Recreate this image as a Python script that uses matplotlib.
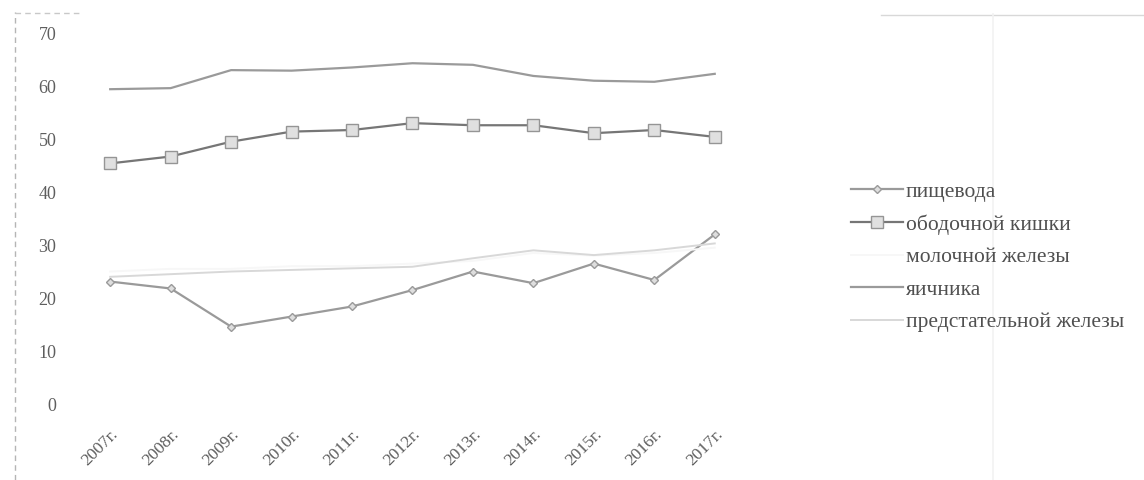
import numpy as np
import matplotlib.pyplot as plt
from matplotlib.lines import Line2D

# Years on the category axis
years = ['2007г.', '2008г.', '2009г.', '2010г.', '2011г.', '2012г.',
         '2013г.', '2014г.', '2015г.', '2016г.', '2017г.']

# Values per localisation
esophagus = [23.1, 21.8, 14.6, 16.5, 18.4, 21.5, 25.0, 22.8, 26.5, 23.4, 32.0]
colon = [45.4, 46.7, 49.5, 51.4, 51.7, 53.0, 52.6, 52.6, 51.1, 51.7, 50.4]
breast = [25.0, 25.5, 25.5, 26.0, 26.0, 26.5, 27.0, 28.5, 28.0, 28.5, 29.5]
ovary = [59.4, 59.6, 63.0, 62.9, 63.5, 64.3, 64.0, 61.9, 61.0, 60.8, 62.3]
prostate = [24.0, 24.5, 25.0, 25.3, 25.6, 25.9, 27.5, 29.0, 28.1, 29.0, 30.3]

labels = ['пищевода', 'ободочной кишки', 'молочной железы', 'яичника',
          'предстательной железы']

plt.rcParams['font.family'] = ['Liberation Serif', 'DejaVu Serif']

fig = plt.figure(figsize=(11.44, 4.8), dpi=100)
ax = fig.add_axes([0.0699, 0.1583, 0.5813, 0.7729])

x = np.arange(len(years))

ax.plot(x, esophagus, color='#9a9a9a', lw=1.6, marker='D', ms=4.5,
        mfc='#dedede', mec='#9a9a9a', label=labels[0])
ax.plot(x, colon, color='#767676', lw=1.6, marker='s', ms=8,
        mfc='#e0e0e0', mec='#959595', label=labels[1])
ax.plot(x, breast, color='#f7f7f7', lw=1.4, label=labels[2])
ax.plot(x, ovary, color='#9a9a9a', lw=1.6, label=labels[3])
ax.plot(x, prostate, color='#d8d8d8', lw=1.4, label=labels[4])

ax.set_xlim(-0.5, len(years) - 0.5)
ax.set_ylim(0, 70)
ax.set_yticks(np.arange(0, 71, 10))
ax.set_xticks(x)
ax.set_xticklabels(years, rotation=45, ha='right', rotation_mode='anchor')
ax.tick_params(axis='both', length=0, colors='#5e5e5e')
ax.tick_params(axis='y', pad=17, labelsize=13)
ax.tick_params(axis='x', pad=16, labelsize=12.5)
for s in ax.spines.values():
    s.set_visible(False)

leg = fig.legend(loc='upper left', bbox_to_anchor=(0.727, 0.662),
                 frameon=False, fontsize=15.5, handlelength=2.4,
                 handletextpad=0.15, labelspacing=0.58, labelcolor='#505050')

# faint frame left by the page edges
fig.add_artist(Line2D([0.013, 0.013], [0.0, 0.975], color='#b5b5b5',
                      lw=1.0, ls=(0, (4, 3))))
fig.add_artist(Line2D([0.013, 0.07], [0.973, 0.973], color='#c8c8c8',
                      lw=1.0, ls=(0, (4, 3))))
fig.add_artist(Line2D([0.77, 1.0], [0.969, 0.969], color='#d8d8d8', lw=1.0))
fig.add_artist(Line2D([0.868, 0.868], [0.0, 0.97], color='#f2f2f2', lw=1.2))

fig.savefig('out.png', dpi=100)
